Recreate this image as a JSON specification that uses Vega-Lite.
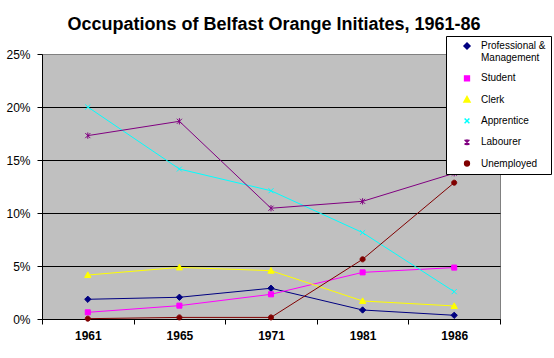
{
  "$schema": "https://vega.github.io/schema/vega-lite/v6.json",
  "width": 458,
  "height": 265,
  "autosize": "none",
  "padding": {"left": 42, "top": 54, "right": 54, "bottom": 39},
  "background": "white",
  "config": {
    "view": {"fill": "#C0C0C0", "stroke": "#808080", "strokeWidth": 1},
    "font": "Liberation Sans"
  },
  "title": {
    "text": "Occupations of Belfast Orange Initiates, 1961-86",
    "font": "Liberation Sans",
    "fontSize": 18,
    "fontWeight": "bold",
    "color": "black",
    "anchor": "middle",
    "frame": "group",
    "baseline": "alphabetic",
    "dx": 3,
    "offset": -12
  },
  "data": {
    "values": [
      {"series": "Professional & Management", "year": "1961", "value": 0.0186},
      {"series": "Professional & Management", "year": "1965", "value": 0.0205},
      {"series": "Professional & Management", "year": "1971", "value": 0.029},
      {"series": "Professional & Management", "year": "1981", "value": 0.0085},
      {"series": "Professional & Management", "year": "1986", "value": 0.0035},
      {"series": "Student", "year": "1961", "value": 0.0063},
      {"series": "Student", "year": "1965", "value": 0.0126},
      {"series": "Student", "year": "1971", "value": 0.0233},
      {"series": "Student", "year": "1981", "value": 0.044},
      {"series": "Student", "year": "1986", "value": 0.0485},
      {"series": "Clerk", "year": "1961", "value": 0.0415},
      {"series": "Clerk", "year": "1965", "value": 0.0487},
      {"series": "Clerk", "year": "1971", "value": 0.0456},
      {"series": "Clerk", "year": "1981", "value": 0.017},
      {"series": "Clerk", "year": "1986", "value": 0.0123},
      {"series": "Apprentice", "year": "1961", "value": 0.2},
      {"series": "Apprentice", "year": "1965", "value": 0.1415},
      {"series": "Apprentice", "year": "1971", "value": 0.121},
      {"series": "Apprentice", "year": "1981", "value": 0.0815},
      {"series": "Apprentice", "year": "1986", "value": 0.0258},
      {"series": "Labourer", "year": "1961", "value": 0.173},
      {"series": "Labourer", "year": "1965", "value": 0.1865},
      {"series": "Labourer", "year": "1971", "value": 0.1045},
      {"series": "Labourer", "year": "1981", "value": 0.111},
      {"series": "Labourer", "year": "1986", "value": 0.1375},
      {"series": "Unemployed", "year": "1961", "value": 0.0003},
      {"series": "Unemployed", "year": "1965", "value": 0.0015},
      {"series": "Unemployed", "year": "1971", "value": 0.0015},
      {"series": "Unemployed", "year": "1981", "value": 0.0563},
      {"series": "Unemployed", "year": "1986", "value": 0.1286}
    ]
  },
  "encoding": {
    "x": {
      "field": "year",
      "type": "ordinal",
      "scale": {"type": "band", "paddingInner": 0, "paddingOuter": 0},
      "axis": {
        "title": null,
        "labelAngle": 0,
        "labelFont": "Liberation Sans",
        "labelFontSize": 12,
        "labelFontWeight": "bold",
        "labelColor": "black",
        "labelPadding": 6,
        "tickBand": "extent",
        "tickColor": "black",
        "tickSize": 5,
        "domainColor": "black",
        "grid": false
      }
    },
    "y": {
      "field": "value",
      "type": "quantitative",
      "scale": {"domain": [0, 0.25]},
      "axis": {
        "title": null,
        "format": ".0%",
        "values": [0, 0.05, 0.1, 0.15, 0.2, 0.25],
        "labelFont": "Liberation Sans",
        "labelFontSize": 12,
        "labelColor": "black",
        "labelPadding": 7,
        "tickColor": "black",
        "tickSize": 5,
        "domainColor": "black",
        "grid": true,
        "gridColor": {"condition": {"test": "datum.value >= 0.25", "value": "#808080"}, "value": "black"},
        "gridOpacity": 1
      }
    },
    "color": {
      "field": "series",
      "type": "nominal",
      "scale": {
        "domain": ["Professional & Management", "Student", "Clerk", "Apprentice", "Labourer", "Unemployed"],
        "range": ["#000080", "#FF00FF", "#FFFF00", "#00FFFF", "#800080", "#800000"]
      },
      "legend": {
        "title": null,
        "orient": "none",
        "legendX": 404,
        "legendY": -18,
        "strokeColor": "black",
        "fillColor": "white",
        "padding": 5,
        "labelFont": "Liberation Sans",
        "labelFontSize": 10,
        "labelColor": "black",
        "labelLimit": 0,
        "labelOffset": 9,
        "labelLineHeight": 11,
        "symbolSize": 36,
        "symbolOffset": 11,
        "rowPadding": 9.3,
        "labelExpr": "datum.label == 'Professional & Management' ? ['Professional &', 'Management'] : datum.label"
      }
    }
  },
  "layer": [
    {"mark": {"type": "line", "strokeWidth": 1}},
    {
      "mark": {"type": "point", "filled": true, "size": 40, "strokeWidth": 1, "opacity": 1},
      "encoding": {
        "shape": {
          "field": "series",
          "type": "nominal",
          "scale": {
            "domain": ["Professional & Management", "Student", "Clerk", "Apprentice", "Labourer", "Unemployed"],
            "range": [
              "M0,-1L1,0L0,1L-1,0Z",
              "M-0.8,-0.8L0.8,-0.8L0.8,0.8L-0.8,0.8Z",
              "M0,-1L1,0.8L-1,0.8Z",
              "M-0.8,-0.8L0.8,0.8M-0.8,0.8L0.8,-0.8",
              "M-0.8,-0.8L0.8,0.8M-0.8,0.8L0.8,-0.8M0,-1L0,1",
              "M-0.8,0A0.8,0.8,0,1,1,0.8,0A0.8,0.8,0,1,1,-0.8,0Z"
            ]
          },
          "legend": null
        },
        "stroke": {
          "field": "series",
          "type": "nominal",
          "scale": {
            "domain": ["Professional & Management", "Student", "Clerk", "Apprentice", "Labourer", "Unemployed"],
            "range": ["#000080", "#FF00FF", "#FFFF00", "#00FFFF", "#800080", "#800000"]
          },
          "legend": null
        }
      }
    }
  ]
}
